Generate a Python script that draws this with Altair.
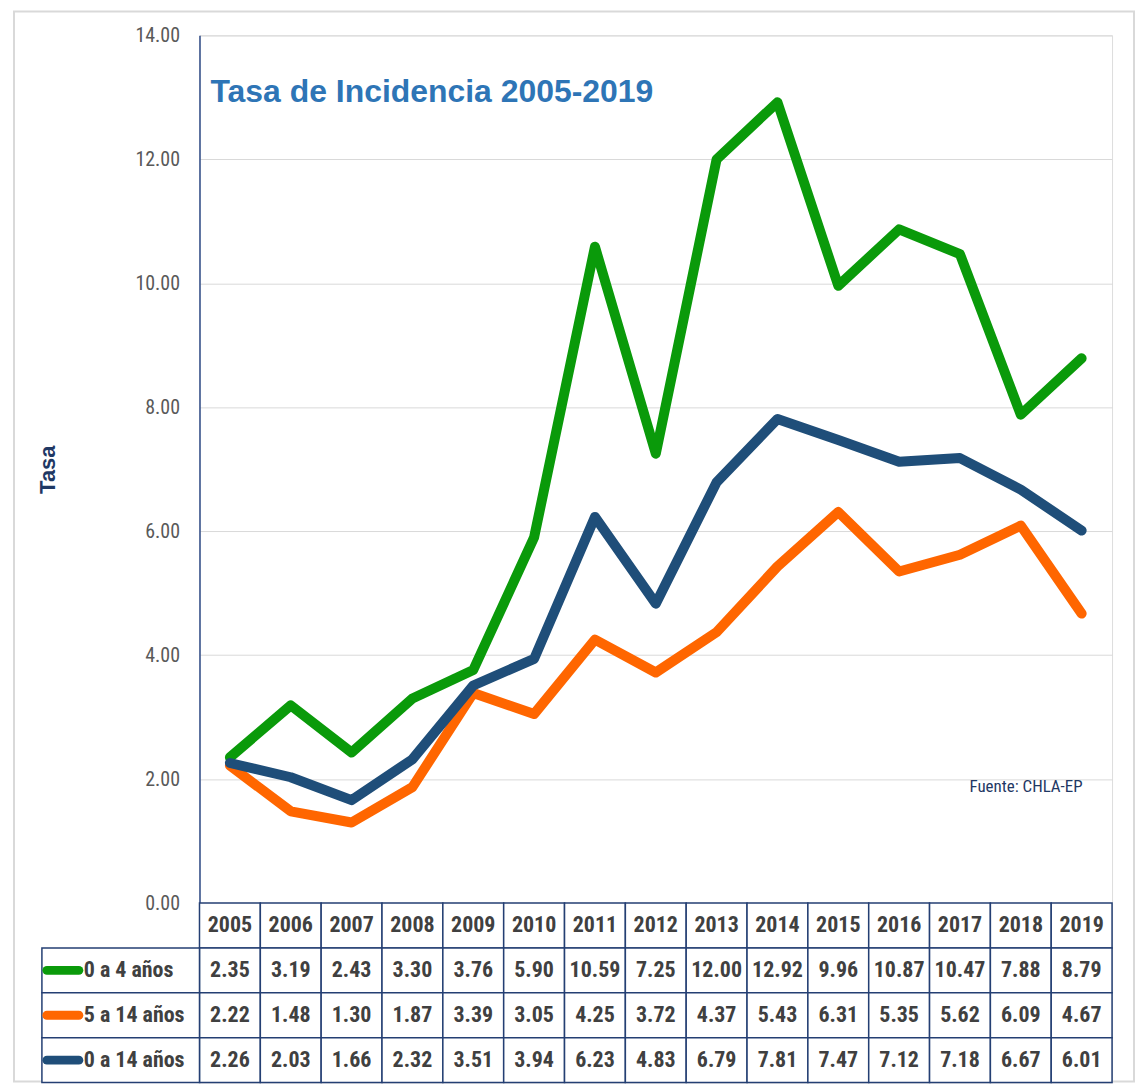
import altair as alt
import pandas as pd

years = [str(y) for y in range(2005, 2020)]
series_names = ["0 a 4 años", "5 a 14 años", "0 a 14 años"]
series_colors = ["#0A9A0A", "#FF6600", "#1F4E79"]
v_0_4 = [2.35, 3.19, 2.43, 3.30, 3.76, 5.90, 10.59, 7.25, 12.00, 12.92, 9.96, 10.87, 10.47, 7.88, 8.79]
v_5_14 = [2.22, 1.48, 1.30, 1.87, 3.39, 3.05, 4.25, 3.72, 4.37, 5.43, 6.31, 5.35, 5.62, 6.09, 4.67]
v_0_14 = [2.26, 2.03, 1.66, 2.32, 3.51, 3.94, 6.23, 4.83, 6.79, 7.81, 7.47, 7.12, 7.18, 6.67, 6.01]
y_ticks = [0, 2, 4, 6, 8, 10, 12, 14]
title_text = "Tasa de Incidencia 2005-2019"
source_text = "Fuente: CHLA-EP"

NARROW = "Liberation Sans Narrow, Roboto Condensed, Liberation Sans"
NAVY = "#243F73"
TXT = "#404040"

all_vals = [v_0_4, v_5_14, v_0_14]
rows = []
for name, vals in zip(series_names, all_vals):
    for y, v in zip(years, vals):
        rows.append({"year": y, "series": name, "value": v})
df = pd.DataFrame(rows)

W, H = 915, 870
xscale = alt.Scale(domain=years, type="point", padding=0.5)
cscale = alt.Scale(domain=series_names, range=series_colors)

lines = []
for name in series_names:
    lines.append(
        alt.Chart(df[df.series == name]).mark_line(strokeWidth=10, strokeJoin="round", strokeCap="round").encode(
            x=alt.X("year:O", scale=xscale, axis=None),
            y=alt.Y("value:Q", scale=alt.Scale(domain=[0, 14], nice=False),
                    axis=alt.Axis(values=y_ticks, format=".2f", grid=True, gridColor="#D9D9D9",
                                  domainColor="#2E4A86", domainWidth=1.5, ticks=False,
                                  labelPadding=20, labelFontSize=20, labelColor="#595959", labelFont=NARROW,
                                  title="Tasa", titleFont="Liberation Sans", titleFontWeight="bold",
                                  titleColor="#1F3864", titleFontSize=22, titlePadding=76)),
            color=alt.Color("series:N", scale=cscale, legend=None),
        )
    )

one = pd.DataFrame({"t": [title_text], "s": [source_text]})
title_mark = alt.Chart(one).mark_text(align="left", baseline="alphabetic", font="Liberation Sans",
                                      fontWeight="bold", fontSize=32, color="#2E75B6").encode(
    x=alt.value(11), y=alt.value(67), text="t:N")
source_mark = alt.Chart(one).mark_text(align="left", baseline="middle", font=NARROW,
                                       fontSize=17, color="#1F3864").encode(
    x=alt.value(772), y=alt.value(754), text="s:N")
frame = alt.Chart(one).mark_rect(fill=None, stroke="#D9D9D9", strokeWidth=2).encode(
    x=alt.value(-186), x2=alt.value(937), y=alt.value(-24), y2=alt.value(1049))

top = alt.layer(frame, *lines, title_mark, source_mark).properties(width=W, height=H)

# table
row_domain = ["header"] + series_names
yscale_t = alt.Scale(domain=row_domain, paddingInner=0, paddingOuter=0)
xscale_t = alt.Scale(domain=years, paddingInner=0, paddingOuter=0)

cells = []
for y in years:
    cells.append({"year": y, "row": "header", "label": y})
for name, vals in zip(series_names, all_vals):
    for y, v in zip(years, vals):
        cells.append({"year": y, "row": name, "label": f"{v:.2f}"})
cdf = pd.DataFrame(cells)

cell_rects = alt.Chart(cdf).mark_rect(fill="white", stroke=NAVY, strokeWidth=1.5).encode(
    x=alt.X("year:O", scale=xscale_t, axis=None),
    y=alt.Y("row:O", scale=yscale_t, axis=None))
cell_text = alt.Chart(cdf).mark_text(font=NARROW, fontWeight="bold", fontSize=22, color=TXT).encode(
    x=alt.X("year:O", scale=xscale_t, axis=None),
    y=alt.Y("row:O", scale=yscale_t, axis=None), text="label:N")

ldf = pd.DataFrame({"row": series_names})
label_rects = alt.Chart(ldf).mark_rect(fill="white", stroke=NAVY, strokeWidth=1.5).encode(
    x=alt.value(-158), x2=alt.value(0), y=alt.Y("row:O", scale=yscale_t, axis=None))
label_syms = alt.Chart(ldf).mark_rule(strokeWidth=9, strokeCap="round").encode(
    x=alt.value(-153), x2=alt.value(-121), y=alt.Y("row:O", scale=yscale_t, axis=None),
    color=alt.Color("row:N", scale=cscale, legend=None))
label_text = alt.Chart(ldf).mark_text(align="left", font=NARROW, fontWeight="bold", fontSize=22, color=TXT).encode(
    x=alt.value(-116), y=alt.Y("row:O", scale=yscale_t, axis=None), text="row:N")

bottom = alt.layer(cell_rects, cell_text, label_rects, label_syms, label_text).properties(width=W, height=180)

chart = alt.vconcat(top, bottom, spacing=0, bounds="flush").properties(
    padding={"left": 4, "top": 0, "right": 0, "bottom": 0}
).configure_view(strokeWidth=0).configure(background="white")

chart.save("out.html", embed_options={"renderer": "svg", "actions": False})
